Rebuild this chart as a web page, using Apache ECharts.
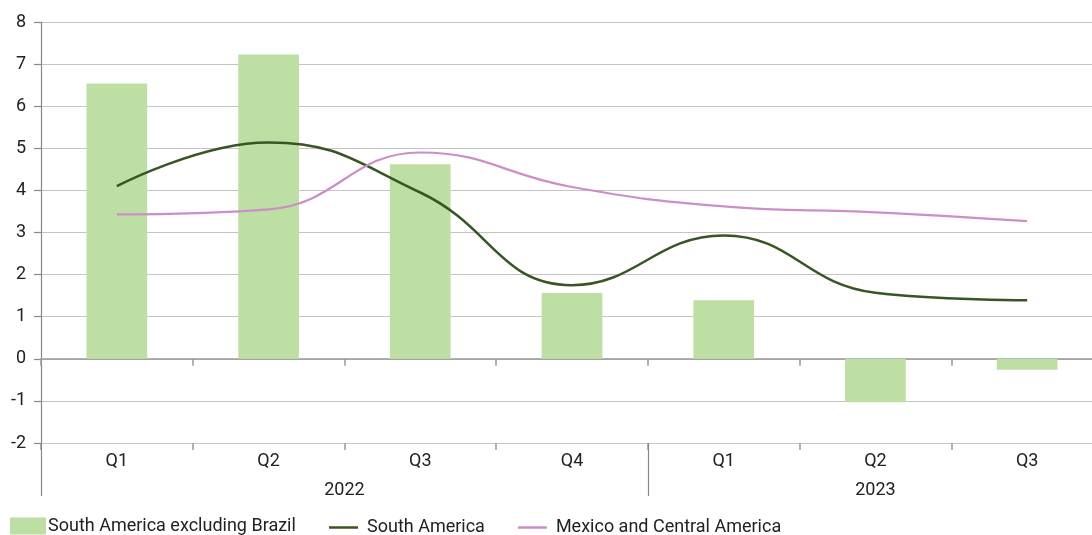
<!DOCTYPE html>
<html><head><meta charset="utf-8">
<script src="https://cdn.jsdelivr.net/npm/echarts@6/dist/echarts.min.js"></script>
<style>html,body{margin:0;padding:0;background:#fff}#c{width:1092px;height:535px}</style>
</head><body><div id="c"></div>
<script>
const quarters = ['Q1','Q2','Q3','Q4','Q1','Q2','Q3'];
const years = ['2022','2023'];
const yearSpans = [4,3];
const southAmericaExBrazil = [6.54, 7.23, 4.62, 1.56, 1.39, -1.03, -0.26];
const southAmerica = [4.10, 5.14, 3.95, 1.75, 2.93, 1.57, 1.39];
const mexicoCentralAmerica = [3.43, 3.55, 4.90, 4.08, 3.62, 3.48, 3.27];
const yTicks = [-2,-1,0,1,2,3,4,5,6,7,8];

const FONT = '"Liberation Sans Narrow", "Roboto", sans-serif';
const yearBounds = [0]; yearSpans.forEach(s => yearBounds.push(yearBounds[yearBounds.length-1] + s));
const yearCenters = years.map((y,i) => (yearBounds[i] + yearBounds[i+1]) / 2);

const chart = echarts.init(document.getElementById('c'));
chart.setOption({
  animation: false,
  textStyle: {fontFamily: FONT},
  grid: {left: 41, top: 22, width: 1062, bottom: 92, containLabel: false, outerBoundsMode: 'none'},
  legend: [{
    left: 10, bottom: 0, padding: 0, itemWidth: 36, itemHeight: 17, itemGap: 30,
    data: [{name: 'South America excluding Brazil', icon: 'rect'}],
    textStyle: {fontFamily: FONT, fontSize: 18, color: '#222', padding: [0,0,0,-3]}
  },{
    left: 329, bottom: -3, padding: 0, itemWidth: 29, itemHeight: 2.5, itemGap: 33,
    data: [{name: 'South America', icon: 'rect'}, {name: 'Mexico and Central America', icon: 'rect'}],
    textStyle: {fontFamily: FONT, fontSize: 18, color: '#222', padding: [0,0,0,4], height: 21, lineHeight: 21}
  }],
  xAxis: [{
    type: 'category', data: quarters, position: 'bottom',
    axisLine: {onZero: true, lineStyle: {color: '#999', width: 1.5}},
    axisTick: {show: true, alignWithLabel: false, length: 7, lineStyle: {color: '#999', width: 1.5}},
    axisLabel: {show: false}, splitLine: {show: false}
  },{
    type: 'category', data: quarters, position: 'bottom',
    axisLine: {onZero: false, show: true, lineStyle: {color: '#c8c8c8', width: 1}},
    axisTick: {show: true, alignWithLabel: false, length: 7, lineStyle: {color: '#999', width: 1.5}},
    axisLabel: {show: true, margin: 9, fontSize: 18, color: '#222', fontFamily: FONT},
    splitLine: {show: false}
  },{
    type: 'value', min: 0, max: quarters.length, position: 'bottom',
    axisLine: {onZero: false, show: false},
    axisTick: {show: true, customValues: yearBounds.slice(0, -1), length: 53, lineStyle: {color: '#888', width: 1.2}},
    axisLabel: {show: true, customValues: yearCenters, margin: 38, fontSize: 18, color: '#222', fontFamily: FONT,
      formatter: v => { const i = yearCenters.indexOf(v); return i >= 0 ? years[i] : ''; }},
    splitLine: {show: false}
  }],
  yAxis: {
    type: 'value', min: -2, max: 8, interval: 1,
    axisLine: {show: true, lineStyle: {color: '#888', width: 1.2}},
    axisTick: {show: true, length: 7, lineStyle: {color: '#888', width: 1.2}},
    axisLabel: {margin: 15, fontSize: 18, color: '#222', fontFamily: FONT},
    splitLine: {show: true, lineStyle: {color: '#c4c4c4', width: 1}}
  },
  series: [{
    name: 'South America excluding Brazil', type: 'bar', xAxisIndex: 0,
    data: southAmericaExBrazil, barWidth: '40%',
    itemStyle: {color: '#bddfa3'}
  },{
    name: 'South America', type: 'line', xAxisIndex: 0, data: southAmerica,
    smooth: 0.45, showSymbol: false, symbol: 'none',
    lineStyle: {color: '#375623', width: 2.5}, itemStyle: {color: '#375623'}
  },{
    name: 'Mexico and Central America', type: 'line', xAxisIndex: 0, data: mexicoCentralAmerica,
    smooth: 0.45, showSymbol: false, symbol: 'none',
    lineStyle: {color: '#cc8ec6', width: 2.2}, itemStyle: {color: '#cc8ec6'}
  }]
});
</script></body></html>
